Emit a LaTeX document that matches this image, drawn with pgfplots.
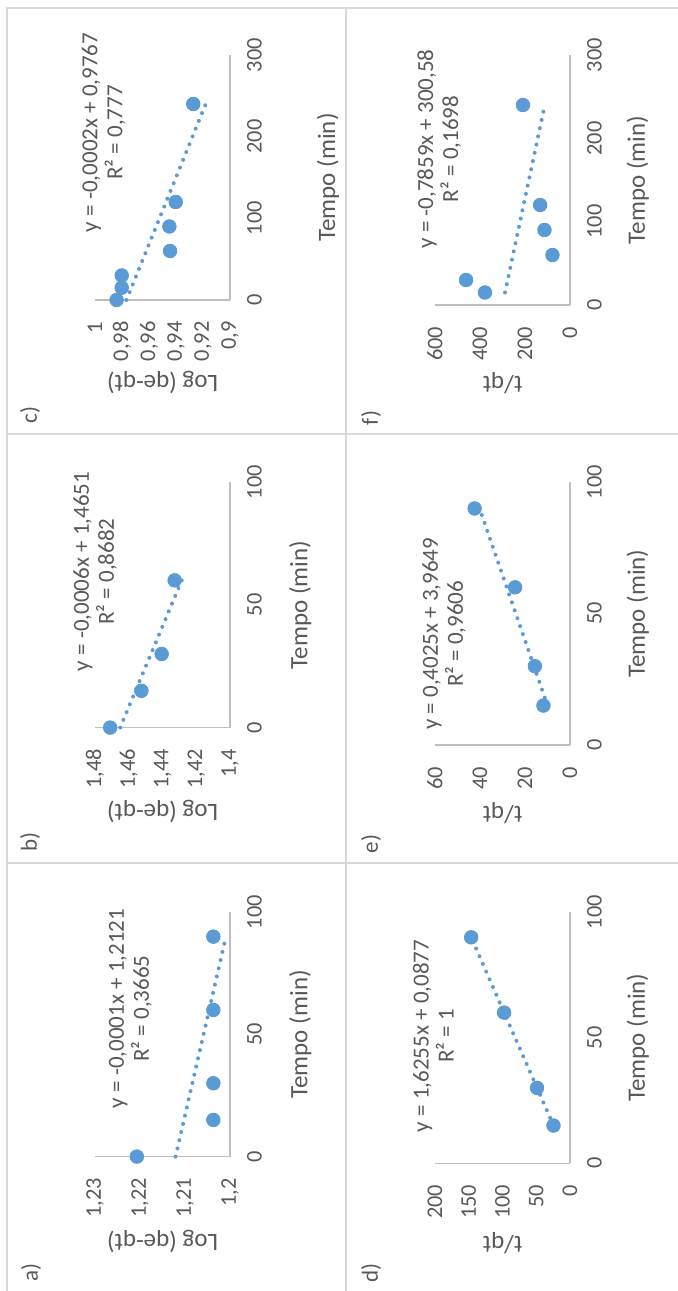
\documentclass[border=0pt]{standalone}
\usepackage{fontspec}
\setmainfont{Carlito}
\usepackage{pgfplots}
\pgfplotsset{compat=1.18}

\definecolor{ptblue}{HTML}{5B9BD5}
\definecolor{txtgray}{HTML}{595959}
\definecolor{axgray}{HTML}{BFBFBF}
\definecolor{framegray}{HTML}{D9D9D9}

\pgfplotsset{
  kinetic/.style={
    scale only axis, height=67.5pt,
    axis lines*=left,
    axis line style={draw=axgray, line width=0.7pt},
    major tick length=0pt, tick style={draw=none},
    clip=false, scaled ticks=false,
    /pgf/number format/assume math mode=true,
    /pgf/number format/use comma,
    ticklabel style={font=\fontsize{11.2}{13}\selectfont, text=txtgray},
    yticklabel style={xshift=-7.3pt},
    xticklabel style={yshift=-5pt},
    label style={font=\fontsize{12.5}{15}\selectfont, text=txtgray},
    xlabel={Tempo (min)},
    xmin=0,
  },
  dados/.style={only marks, mark=*, mark size=3.4pt, color=ptblue,
    mark options={draw=ptblue, fill=ptblue}},
  tendencia/.style={color=ptblue, line width=2pt, line cap=round,
    dash pattern=on 0pt off 4.2pt, no marks},
}
\tikzset{
  eqlabel/.style={align=center, font=\fontsize{11.5}{12.5}\selectfont,
    text=txtgray, inner sep=0pt},
  painel/.style={font=\fontsize{11.5}{13}\selectfont, text=txtgray, anchor=center},
}

\begin{document}
\begin{tikzpicture}[rotate=90, transform shape]
\path[use as bounding box] (0,0) rectangle (645.5pt,-339pt);

% panel frames
\draw[framegray, line width=1.2pt] (0,-3.5pt) -- (641.5pt,-3.5pt) -- (641.5pt,-339pt);
\draw[framegray, line width=1.2pt] (0,-173pt) -- (641.5pt,-173pt);
\draw[framegray, line width=1.2pt] (214pt,-3.5pt) -- (214pt,-339pt);
\draw[framegray, line width=1.2pt] (428.5pt,-3.5pt) -- (428.5pt,-339pt);

\node[painel] at (9pt,-15.5pt) {a)};
\node[painel] at (224.5pt,-15pt) {b)};
\node[painel] at (438pt,-15pt) {c)};
\node[painel] at (9pt,-185.5pt) {d)};
\node[painel] at (223.5pt,-185.5pt) {e)};
\node[painel] at (436.5pt,-185.5pt) {f)};

% a) pseudo-first order
\begin{axis}[kinetic, at={(67.2pt,-115pt)}, anchor=south west, width=122.2pt,
  xmax=100, xtick={0,50,100},
  ymin=1.2, ymax=1.23, ytick={1.2,1.21,1.22,1.23},
  ylabel={Log (qe-qt)},
  xlabel style={at={(axis description cs:0.5,-0.52)}, anchor=center},
  ylabel style={at={(axis description cs:-0.348,0.5)}, anchor=center}]
\addplot[tendencia] coordinates {(0,1.2121) (90,1.2009)};
\addplot[dados] coordinates {(0,1.2207) (15,1.2037) (30,1.2037) (60,1.2037) (90,1.2037)};
\node[eqlabel] at (rel axis cs:0.606,0.737) {y = -0,0001x + 1,2121\\R² = 0,3665};
\end{axis}

% b)
\begin{axis}[kinetic, at={(281.7pt,-115pt)}, anchor=south west, width=122.7pt,
  xmax=100, xtick={0,50,100},
  ymin=1.4, ymax=1.48, ytick={1.4,1.42,1.44,1.46,1.48},
  ylabel={Log (qe-qt)},
  xlabel style={at={(axis description cs:0.5,-0.52)}, anchor=center},
  ylabel style={at={(axis description cs:-0.342,0.5)}, anchor=center}]
\addplot[tendencia] coordinates {(0,1.4651) (60,1.4286)};
\addplot[dados] coordinates {(0,1.471) (15,1.4525) (30,1.4405) (60,1.4328)};
\node[eqlabel] at (rel axis cs:0.636,1.0) {y = -0,0006x + 1,4651\\R² = 0,8682};
\end{axis}

% c)
\begin{axis}[kinetic, at={(495.5pt,-115pt)}, anchor=south west, width=122.5pt,
  xmax=300, xtick={0,100,200,300},
  ymin=0.9, ymax=1, ytick={0.9,0.92,0.94,0.96,0.98,1},
  ylabel={Log (qe-qt)},
  xlabel style={at={(axis description cs:0.5,-0.726)}, anchor=center},
  ylabel style={at={(axis description cs:-0.335,0.5)}, anchor=center}]
\addplot[tendencia] coordinates {(0,0.9767) (240,0.918)};
\addplot[dados] coordinates {(0,0.984) (15,0.9802) (30,0.9802) (60,0.9444) (90,0.9449) (120,0.9402) (240,0.9272)};
\node[eqlabel] at (rel axis cs:0.684,0.937) {y = -0,0002x + 0,9767\\R² = 0,777};
\end{axis}

% d) pseudo-second order
\begin{axis}[kinetic, at={(63.9pt,-285pt)}, anchor=south west, width=125.5pt,
  xmax=100, xtick={0,50,100},
  ymin=0, ymax=200, ytick={0,50,100,150,200},
  ylabel={t/qt},
  xlabel style={at={(axis description cs:0.5,-0.501)}, anchor=center},
  ylabel style={at={(axis description cs:-0.318,0.5)}, anchor=center}]
\addplot[tendencia] coordinates {(15,24.47) (90,146.38)};
\addplot[dados] coordinates {(15,24.47) (30,48.85) (60,97.62) (90,146.38)};
\node[eqlabel] at (rel axis cs:0.507,1.013) {y = 1,6255x + 0,0877\\R² = 1};
\end{axis}

% e)
\begin{axis}[kinetic, at={(273pt,-285pt)}, anchor=south west, width=131.4pt,
  xmax=100, xtick={0,50,100},
  ymin=0, ymax=60, ytick={0,20,40,60},
  ylabel={t/qt},
  xlabel style={at={(axis description cs:0.5,-0.501)}, anchor=center},
  ylabel style={at={(axis description cs:-0.259,0.5)}, anchor=center}]
\addplot[tendencia] coordinates {(15,10.0) (90,40.19)};
\addplot[dados] coordinates {(15,11.8) (30,15.6) (60,24.4) (90,42.4)};
\node[eqlabel] at (rel axis cs:0.423,0.932) {y = 0,4025x + 3,9649\\R² = 0,9606};
\end{axis}

% f)
\begin{axis}[kinetic, at={(493pt,-285pt)}, anchor=south west, width=125pt,
  xmax=300, xtick={0,100,200,300},
  ymin=0, ymax=600, ytick={0,200,400,600},
  ylabel={t/qt},
  xlabel style={at={(axis description cs:0.5,-0.501)}, anchor=center},
  ylabel style={at={(axis description cs:-0.312,0.5)}, anchor=center}]
\addplot[tendencia] coordinates {(15,288.8) (240,112.0)};
\addplot[dados] coordinates {(15,378) (30,462) (60,78) (90,113.5) (120,132.7) (240,209)};
\node[eqlabel] at (rel axis cs:0.624,0.969) {y = -0,7859x + 300,58\\R² = 0,1698};
\end{axis}
\end{tikzpicture}
\end{document}
